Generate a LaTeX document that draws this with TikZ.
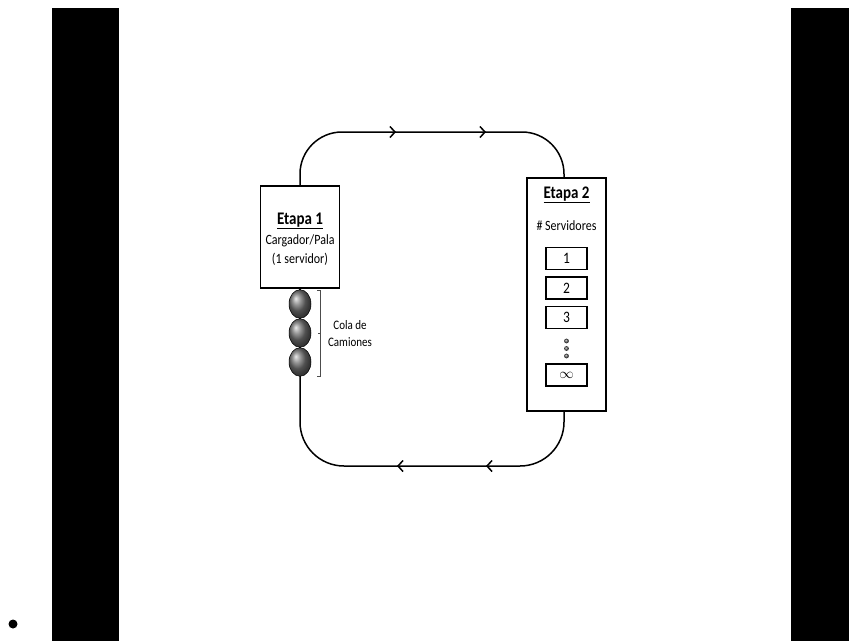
\documentclass[tikz,border=0pt]{standalone}
\usepackage{fontspec}
\setmainfont{Carlito}
\usetikzlibrary{arrows.meta,decorations.markings}
\newcommand{\tallt}[1]{\scalebox{1}[1.18]{#1}}
\begin{document}
\begin{tikzpicture}[x=1pt,y=-1pt,
  bar/.style={fill=black,draw=none},
  stagebox/.style={draw=black,line width=1.6pt,fill=white,inner sep=0pt},
  srvbox/.style={draw=black,line width=1.4pt,fill=white,minimum width=41pt,minimum height=22pt,inner sep=0pt,font=\fontsize{13.5}{16}\selectfont},
  flow/.style={line width=1.5pt,draw=black},
  ttl/.style={font=\fontsize{15}{17}\selectfont\bfseries,inner sep=0pt},
  txt/.style={font=\fontsize{12}{17}\selectfont,inner sep=0pt},
  smalltxt/.style={font=\fontsize{11}{16}\selectfont,inner sep=0pt},
  chev/.style={decoration={markings,
     mark=at position #1 with {\arrow{Straight Barb[length=5pt,width=11pt,line width=1.5pt]}}},postaction={decorate}}
]
\useasboundingbox (0,0) rectangle (849,641);
\fill[white] (0,0) rectangle (849,641);
% side bars
\path[bar] (52,8) rectangle (119,641);
\path[bar] (791,8) rectangle (849,641);
% bullet
\fill[black] (13,624) circle (4.5);

% Stage 1 box
\node[stagebox,minimum width=79pt,minimum height=102pt] (e1) at (300,237) {};
\node[ttl] (e1t) at (300,221) {\tallt{\underline{Etapa 1}}};
\node[txt] (e1a) at (300,241) {\tallt{Cargador/Pala}};
\node[txt] (e1b) at (300,259) {\tallt{(1 servidor)}};

% Stage 2 box
\node[stagebox,minimum width=79pt,minimum height=233pt] (e2) at (566.5,294.5) {};
\node[ttl] (e2t) at (566.5,195) {\tallt{\underline{Etapa 2}}};
\node[txt] (e2s) at (566.5,226) {\tallt{\# Servidores}};
\node[srvbox] (s1) at (566.5,258.5) {\tallt{1}};
\node[srvbox] (s2) at (566.5,288) {\tallt{2}};
\node[srvbox] (s3) at (566.5,317.5) {\tallt{3}};
\node[srvbox] (sinf) at (566.5,375) {$\infty$};
\foreach \yy/\nm in {341/d1,348.5/d2,356/d3}
  \shade[ball color=gray!70!black] (566.5,\yy) circle (2.4);

% coordinates for the loop
\coordinate (tl) at (300,132);
\coordinate (tr) at (564,132);
\coordinate (e2top) at (564,178);
\coordinate (qbot) at (300,376);
\coordinate (bl) at (300,466);
\coordinate (br) at (564,466);
\coordinate (e2bot) at (564,412);

% top connector
\draw[flow,rounded corners=42pt] (e1.north) -- (tl) -- (tr) -- (e2top);
\path[chev=96pt] (tl) -- (tr);
\path[chev=186pt] (tl) -- (tr);
% bottom connector
\draw[flow] (e1.south) -- (qbot);
\draw[flow,rounded corners=44pt] (qbot) -- (bl) -- (br) -- (e2bot);
\path[chev=78pt] (br) -- (bl);
\path[chev=167pt] (br) -- (bl);

% queue of trucks
\foreach \yy/\nm in {304/c1,333/c2,362/c3}
  \shade[ball color=gray!90!black,draw=black,line width=0.5pt] (300,\yy) ellipse (11 and 14.3);

% bracket
\draw[gray!60!black,line width=0.5pt] (317,290) -- (320,290) -- (320,376) -- (317,376);
\draw[gray!60!black,line width=0.5pt] (320,333) -- (318,333);
\node[smalltxt] (cola1) at (350,325) {\tallt{Cola de}};
\node[smalltxt] (cola2) at (350,342) {\tallt{Camiones}};
\end{tikzpicture}
\end{document}
